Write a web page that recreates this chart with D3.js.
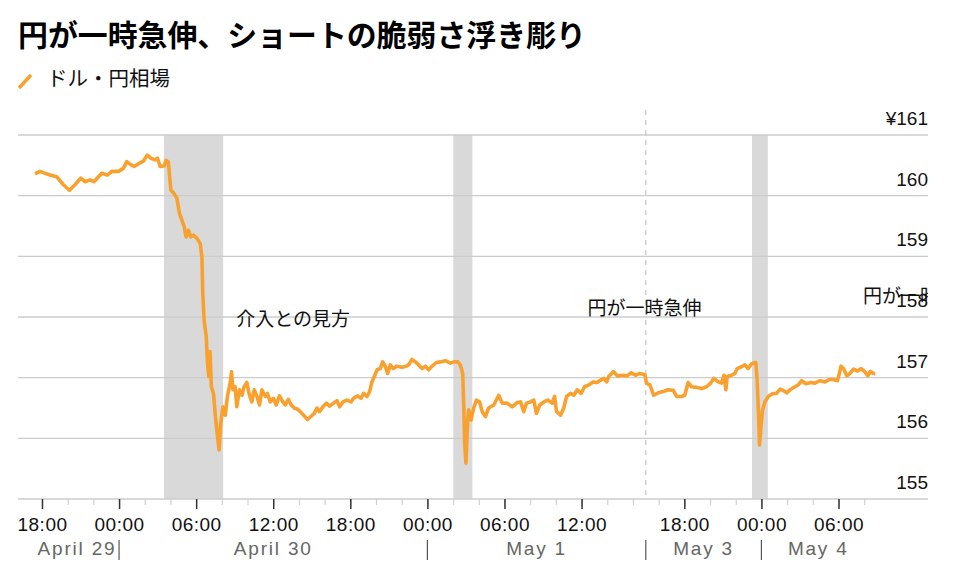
<!DOCTYPE html>
<html>
<head>
<meta charset="utf-8">
<script src="https://cdn.jsdelivr.net/npm/d3@7"></script>
<style>
  body { margin: 0; background: #fff; }
  svg { display: block; }
  .jp { font-family: "Noto Sans CJK JP", "Noto Sans", sans-serif; }
  .num { font-family: "Liberation Sans", Arial, sans-serif; }
</style>
</head>
<body>
<svg width="959" height="576"></svg>
<script>
// ドル・円相場
const usdJpy = [
  ['04-29 17:27', 160.36], ['04-29 17:51', 160.40], ['04-29 18:06', 160.38], ['04-29 18:37', 160.34],
  ['04-29 19:09', 160.31], ['04-29 19:40', 160.18], ['04-29 20:08', 160.09], ['04-29 20:34', 160.18],
  ['04-29 21:01', 160.29], ['04-29 21:21', 160.23], ['04-29 21:44', 160.26], ['04-29 22:03', 160.23],
  ['04-29 22:39', 160.37], ['04-29 23:05', 160.34], ['04-29 23:26', 160.40], ['04-29 23:57', 160.40],
  ['04-30 00:20', 160.45], ['04-30 00:36', 160.56], ['04-30 00:51', 160.52], ['04-30 01:10', 160.48],
  ['04-30 01:38', 160.54], ['04-30 01:54', 160.57], ['04-30 02:12', 160.67], ['04-30 02:28', 160.62],
  ['04-30 02:48', 160.59], ['04-30 02:59', 160.62], ['04-30 03:12', 160.48], ['04-30 03:30', 160.49],
  ['04-30 03:40', 160.58], ['04-30 03:50', 160.56], ['04-30 04:02', 160.09], ['04-30 04:14', 160.05],
  ['04-30 04:30', 159.96], ['04-30 04:42', 159.71], ['04-30 04:53', 159.60], ['04-30 05:04', 159.49],
  ['04-30 05:13', 159.32], ['04-30 05:24', 159.43], ['04-30 05:35', 159.32], ['04-30 05:47', 159.35],
  ['04-30 06:03', 159.30], ['04-30 06:19', 159.21], ['04-30 06:27', 158.99], ['04-30 06:31', 158.39],
  ['04-30 06:37', 157.95], ['04-30 06:47', 157.68], ['04-30 06:53', 157.24], ['04-30 06:59', 157.02],
  ['04-30 07:05', 157.43], ['04-30 07:11', 156.85], ['04-30 07:21', 156.74], ['04-30 07:30', 156.36],
  ['04-30 07:40', 156.03], ['04-30 07:47', 155.81], ['04-30 07:55', 156.25], ['04-30 08:05', 156.52],
  ['04-30 08:16', 156.38], ['04-30 08:26', 156.69], ['04-30 08:39', 156.91], ['04-30 08:45', 157.10],
  ['04-30 08:52', 156.80], ['04-30 09:02', 156.85], ['04-30 09:10', 156.52], ['04-30 09:22', 156.80],
  ['04-30 09:34', 156.71], ['04-30 09:44', 156.85], ['04-30 09:57', 156.92], ['04-30 10:09', 156.71],
  ['04-30 10:20', 156.60], ['04-30 10:31', 156.80], ['04-30 10:44', 156.69], ['04-30 10:56', 156.55],
  ['04-30 11:07', 156.80], ['04-30 11:23', 156.69], ['04-30 11:33', 156.74], ['04-30 11:46', 156.60],
  ['04-30 12:01', 156.66], ['04-30 12:14', 156.55], ['04-30 12:29', 156.70], ['04-30 12:45', 156.60],
  ['04-30 12:56', 156.55], ['04-30 13:11', 156.64], ['04-30 13:24', 156.55], ['04-30 13:38', 156.50],
  ['04-30 13:54', 156.48], ['04-30 14:06', 156.44], ['04-30 14:22', 156.38], ['04-30 14:40', 156.31],
  ['04-30 14:56', 156.36], ['04-30 15:12', 156.41], ['04-30 15:24', 156.50], ['04-30 15:36', 156.44],
  ['04-30 15:52', 156.52], ['04-30 16:08', 156.58], ['04-30 16:23', 156.53], ['04-30 16:42', 156.58],
  ['04-30 16:58', 156.62], ['04-30 17:10', 156.52], ['04-30 17:26', 156.60], ['04-30 17:44', 156.63],
  ['04-30 18:03', 156.60], ['04-30 18:15', 156.66], ['04-30 18:34', 156.70], ['04-30 18:50', 156.66],
  ['04-30 19:02', 156.74], ['04-30 19:18', 156.69], ['04-30 19:30', 156.77], ['04-30 19:41', 156.93],
  ['04-30 19:52', 157.02], ['04-30 20:05', 157.13], ['04-30 20:20', 157.15], ['04-30 20:31', 157.26],
  ['04-30 20:44', 157.18], ['04-30 20:54', 157.07], ['04-30 21:07', 157.21], ['04-30 21:20', 157.15],
  ['04-30 21:38', 157.19], ['04-30 22:02', 157.17], ['04-30 22:22', 157.19], ['04-30 22:32', 157.21],
  ['04-30 22:48', 157.30], ['04-30 23:04', 157.26], ['04-30 23:19', 157.21], ['04-30 23:35', 157.15],
  ['04-30 23:51', 157.19], ['05-01 00:06', 157.13], ['05-01 00:22', 157.19], ['05-01 00:42', 157.25],
  ['05-01 01:01', 157.26], ['05-01 01:24', 157.28], ['05-01 01:47', 157.24], ['05-01 02:03', 157.26],
  ['05-01 02:22', 157.26], ['05-01 02:34', 157.21], ['05-01 02:45', 157.07], ['05-01 02:50', 156.52],
  ['05-01 02:54', 155.92], ['05-01 03:00', 155.59], ['05-01 03:08', 156.30], ['05-01 03:13', 156.47],
  ['05-01 03:24', 156.30], ['05-01 03:36', 156.50], ['05-01 03:49', 156.63], ['05-01 04:04', 156.60],
  ['05-01 04:16', 156.44], ['05-01 04:31', 156.36], ['05-01 04:46', 156.50], ['05-01 05:10', 156.55],
  ['05-01 05:33', 156.71], ['05-01 05:49', 156.58], ['05-01 06:12', 156.58], ['05-01 06:36', 156.52],
  ['05-01 06:59', 156.59], ['05-01 07:15', 156.60], ['05-01 07:30', 156.44], ['05-01 07:43', 156.58],
  ['05-01 08:01', 156.60], ['05-01 08:17', 156.63], ['05-01 08:29', 156.41], ['05-01 08:45', 156.55],
  ['05-01 09:04', 156.60], ['05-01 09:22', 156.63], ['05-01 09:43', 156.58], ['05-01 09:54', 156.69],
  ['05-01 10:03', 156.44], ['05-01 10:22', 156.38], ['05-01 10:37', 156.50], ['05-01 10:50', 156.69],
  ['05-01 11:08', 156.74], ['05-01 11:24', 156.71], ['05-01 11:40', 156.80], ['05-01 11:58', 156.74],
  ['05-01 12:14', 156.85], ['05-01 12:34', 156.88], ['05-01 12:54', 156.93], ['05-01 13:13', 156.92],
  ['05-01 13:29', 156.96], ['05-01 13:44', 156.99], ['05-01 13:57', 156.93], ['05-01 14:07', 157.02],
  ['05-01 14:28', 157.10], ['05-01 14:47', 157.03], ['05-01 15:10', 157.04], ['05-01 15:33', 157.03],
  ['05-01 15:52', 157.08], ['05-01 16:12', 157.04], ['05-01 16:32', 157.07], ['05-01 16:56', 157.05],
  ['05-03 15:03', 156.91], ['05-03 15:07', 156.90], ['05-03 15:19', 156.88], ['05-03 15:37', 156.71],
  ['05-03 15:58', 156.75], ['05-03 16:21', 156.77], ['05-03 16:44', 156.80], ['05-03 17:08', 156.79],
  ['05-03 17:24', 156.69], ['05-03 17:47', 156.69], ['05-03 18:02', 156.71], ['05-03 18:18', 156.92],
  ['05-03 18:34', 156.85], ['05-03 18:57', 156.84], ['05-03 19:20', 156.82], ['05-03 19:44', 156.85],
  ['05-03 20:03', 156.91], ['05-03 20:18', 156.99], ['05-03 20:38', 156.93], ['05-03 20:54', 156.91],
  ['05-03 21:05', 157.04], ['05-03 21:14', 156.80], ['05-03 21:20', 157.02], ['05-03 21:41', 157.04],
  ['05-03 21:56', 157.07], ['05-03 22:07', 157.15], ['05-03 22:27', 157.18], ['05-03 22:43', 157.21],
  ['05-03 22:58', 157.15], ['05-03 23:14', 157.23], ['05-03 23:34', 157.25], ['05-03 23:40', 156.96],
  ['05-03 23:47', 156.36], ['05-03 23:51', 155.89], ['05-03 23:58', 156.19], ['05-04 00:04', 156.44],
  ['05-04 00:16', 156.60], ['05-04 00:32', 156.69], ['05-04 00:53', 156.74], ['05-04 01:11', 156.74],
  ['05-04 01:27', 156.81], ['05-04 01:42', 156.79], ['05-04 01:58', 156.75], ['05-04 02:17', 156.81],
  ['05-04 02:37', 156.85], ['05-04 02:52', 156.88], ['05-04 03:08', 156.95], ['05-04 03:28', 156.90],
  ['05-04 03:50', 156.92], ['05-04 04:10', 156.91], ['05-04 04:34', 156.95], ['05-04 04:57', 156.93],
  ['05-04 05:17', 156.97], ['05-04 05:36', 156.97], ['05-04 05:55', 156.95], ['05-04 06:04', 157.07],
  ['05-04 06:12', 157.19], ['05-04 06:23', 157.15], ['05-04 06:39', 157.03], ['05-04 06:54', 157.07],
  ['05-04 07:10', 157.14], ['05-04 07:29', 157.11], ['05-04 07:44', 157.15], ['05-04 08:00', 157.11],
  ['05-04 08:17', 157.03], ['05-04 08:28', 157.10], ['05-04 08:43', 157.07], ['05-04 08:51', 157.06]
];

// shaded periods (suspected intervention)
const bands = [
  ['04-30 03:30', '04-30 08:06'],
  ['05-01 02:01', '05-01 03:30'],
  ['05-03 23:16', '05-04 00:30']
];

const annotations = [
  { text: '介入との見方', time: '04-30 09:07', value: 157.85 },
  { text: '円が一時急伸', time: '05-01 12:28', value: 158.03 },
  { text: '円が一時急伸', time: '05-04 07:54', value: 158.23 }
];

const yTicks = [155, 156, 157, 158, 159, 160, 161];
const timeLabels = ['04-29 18:00', '04-30 00:00', '04-30 06:00', '04-30 12:00', '04-30 18:00',
  '05-01 00:00', '05-01 06:00', '05-01 12:00', '05-03 18:00', '05-04 00:00', '05-04 06:00'];
const dayLabels = ['April 29', 'April 30', 'May 1', 'May 3', 'May 4'];
const dayStarts = ['04-30 00:00', '05-01 00:00', '05-04 00:00'];

// axis extent and the weekend break
const axisStart = '04-29 16:08';
const breakFrom = '05-01 17:00';
const breakTo = '05-03 15:00';
const axisEnd = '05-04 12:58';

const parse = (s) => d3.timeParse('%Y-%m-%d %H:%M')('2024-' + s);

const data = usdJpy.map(d => ({ date: parse(d[0]), value: d[1] }));

const plotLeft = 18, plotRight = 928, plotTop = 135, plotBottom = 499;
const orange = '#F9A12E';

const t0 = parse(axisStart), tb0 = parse(breakFrom), tb1 = parse(breakTo), t1 = parse(axisEnd);
const hoursA = (tb0 - t0) / 3.6e6, hoursB = (t1 - tb1) / 3.6e6;
const xBreak = plotLeft + (plotRight - plotLeft) * hoursA / (hoursA + hoursB);

const x = d3.scaleTime()
  .domain([t0, tb0, tb1, t1])
  .range([plotLeft, xBreak, xBreak, plotRight]);

const y = d3.scaleLinear()
  .domain([d3.min(yTicks), d3.max(yTicks)])
  .range([plotBottom, plotTop]);

const svg = d3.select('svg');

// title + legend
svg.append('text')
  .attr('class', 'jp')
  .attr('x', 18).attr('y', 46)
  .attr('font-size', '29.9px').attr('font-weight', 'bold').attr('fill', '#000')
  .text('円が一時急伸、ショートの脆弱さ浮き彫り');

svg.append('line')
  .attr('x1', 19).attr('y1', 88).attr('x2', 31).attr('y2', 75)
  .attr('stroke', orange).attr('stroke-width', 3.5);

svg.append('text')
  .attr('class', 'jp')
  .attr('x', 47).attr('y', 86)
  .attr('font-size', '20.5px').attr('fill', '#111')
  .text('ドル・円相場');

// shaded bands
svg.append('g')
  .selectAll('rect')
  .data(bands)
  .enter().append('rect')
  .attr('x', d => x(parse(d[0])))
  .attr('width', d => x(parse(d[1])) - x(parse(d[0])))
  .attr('y', plotTop)
  .attr('height', plotBottom - plotTop)
  .attr('fill', '#d9d9d9');

// gridlines + y labels
svg.append('g')
  .selectAll('line')
  .data(yTicks)
  .enter().append('line')
  .attr('x1', plotLeft).attr('x2', plotRight)
  .attr('y1', d => y(d)).attr('y2', d => y(d))
  .attr('stroke', '#cccccc').attr('stroke-width', 1.3);

svg.append('g')
  .selectAll('text')
  .data(yTicks)
  .enter().append('text')
  .attr('class', 'num')
  .attr('x', plotRight)
  .attr('y', d => y(d) - 10)
  .attr('text-anchor', 'end')
  .attr('font-size', '19px').attr('fill', '#111')
  .text(d => d === d3.max(yTicks) ? '¥' + d : d);

// break marker
svg.append('line')
  .attr('x1', xBreak).attr('x2', xBreak)
  .attr('y1', 110).attr('y2', plotBottom)
  .attr('stroke', '#c4c4c4').attr('stroke-width', 1.2)
  .attr('stroke-dasharray', '5,5');

// x axis ticks
const dataStart = data[0].date, dataEnd = data[data.length - 1].date;
const minorTicks = d3.timeHour.every(2).range(dataStart, tb0)
  .concat(d3.timeHour.every(2).range(tb1, dataEnd));
const majorTicks = timeLabels.map(parse);

svg.append('g')
  .attr('transform', `translate(0,${plotBottom})`)
  .call(d3.axisBottom(x).tickValues(minorTicks).tickSize(6).tickFormat(''))
  .call(g => g.select('.domain').remove())
  .call(g => g.selectAll('.tick line').attr('stroke', '#d0d0d0').attr('stroke-width', 1.2));

svg.append('g')
  .attr('transform', `translate(0,${plotBottom})`)
  .call(d3.axisBottom(x).tickValues(majorTicks).tickSize(10).tickPadding(8)
    .tickFormat(d3.timeFormat('%H:%M')))
  .call(g => g.select('.domain').remove())
  .call(g => g.selectAll('.tick line').attr('stroke', '#333').attr('stroke-width', 1.5))
  .call(g => g.selectAll('.tick text')
    .attr('class', 'num').attr('font-size', '19px').attr('fill', '#111')
    .attr('letter-spacing', '0.5px').attr('dy', null).attr('y', 32));

// day labels
const dayEdges = [dataStart].concat(dayStarts.slice(0, 2).map(parse), [tb0, tb1], parse(dayStarts[2]), dataEnd);
const dayRanges = [
  [dayEdges[0], dayEdges[1]], [dayEdges[1], dayEdges[2]], [dayEdges[2], dayEdges[3]],
  [dayEdges[4], dayEdges[5]], [dayEdges[5], dayEdges[6]]
];

svg.append('g')
  .selectAll('text')
  .data(dayLabels)
  .enter().append('text')
  .attr('class', 'num')
  .attr('x', (d, i) => (x(dayRanges[i][0]) + x(dayRanges[i][1])) / 2)
  .attr('y', 555)
  .attr('text-anchor', 'middle')
  .attr('font-size', '19px').attr('fill', '#666')
  .attr('letter-spacing', '1.8px')
  .text(d => d);

svg.append('g')
  .selectAll('line')
  .data(dayStarts.map(parse).concat([tb0]))
  .enter().append('line')
  .attr('x1', d => x(d)).attr('x2', d => x(d))
  .attr('y1', 540).attr('y2', 560)
  .attr('stroke', '#555').attr('stroke-width', 1.2);

// the line
svg.append('path')
  .datum(data)
  .attr('fill', 'none')
  .attr('stroke', orange)
  .attr('stroke-width', 3.6)
  .attr('stroke-linejoin', 'round')
  .attr('d', d3.line().x(d => x(d.date)).y(d => y(d.value)));

// annotations (clipped at the plot edge)
svg.append('clipPath').attr('id', 'plotClip')
  .append('rect').attr('x', 0).attr('y', 0).attr('width', plotRight).attr('height', 576);

svg.append('g')
  .attr('clip-path', 'url(#plotClip)')
  .selectAll('text')
  .data(annotations)
  .enter().append('text')
  .attr('class', 'jp')
  .attr('x', d => x(parse(d.time)))
  .attr('y', d => y(d.value))
  .attr('font-size', '19px').attr('fill', '#111')
  .text(d => d.text);
</script>
</body>
</html>
